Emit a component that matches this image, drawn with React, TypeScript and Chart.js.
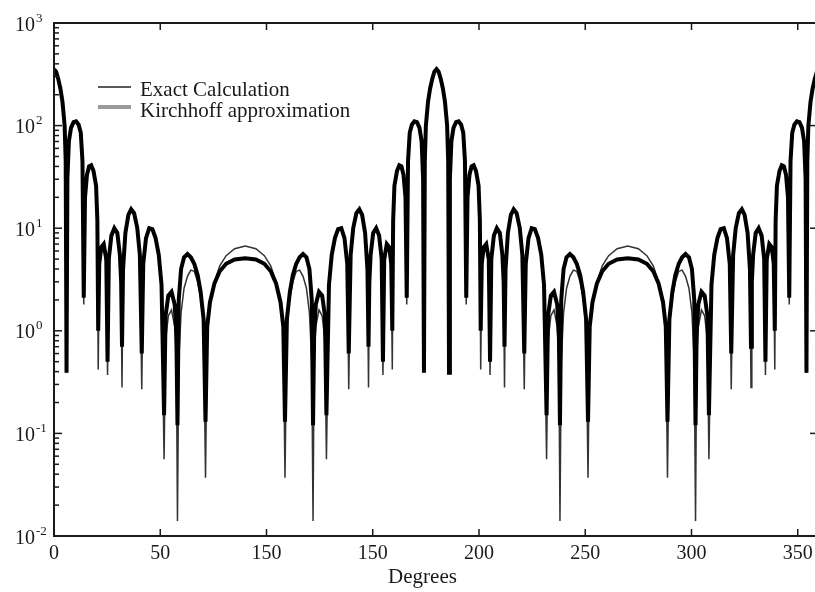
import React, { useEffect, useRef } from "react";
import { Chart, registerables } from "chart.js";

Chart.register(...registerables);

// Scattering angle (degrees), shared by both series
const degrees = [
  // 0 – 90
  0, 1, 2, 3, 4, 5, 5.5, 5.9, 6.3, 7,
  8, 9.2, 10.4, 11.6, 12.6, 13.4, 14, 14.6, 15.5, 16.5,
  17.5, 18.6, 19.8, 20.4, 20.8, 21.3, 22.2, 23.4, 24.6, 25.2,
  25.8, 27, 28.4, 29.8, 31, 31.6, 32, 32.5, 33.6, 35,
  36.3, 37.7, 39.2, 40.4, 41.3, 42, 43.3, 44.8, 46.3, 47.8,
  49.3, 50.6, 51.8, 52.5, 53.8, 55.3, 56.8, 57.6, 58.1, 58.7,
  59.8, 61.2, 62.8, 64.4, 66, 67.6, 69, 70.4, 71.3, 72.1,
  73.4, 75.5, 78, 81, 85, 90,
  // 95 – 180
  95, 99, 102, 104.5, 106.6, 107.9, 108.7, 109.6, 111, 112.4,
  114, 115.6, 117.2, 118.8, 120.2, 121.3, 121.9, 122.4, 123.2, 124.7,
  126.2, 127.5, 128.2, 129.4, 130.7, 132.2, 133.7, 135.2, 136.7, 138,
  138.7, 139.6, 140.8, 142.3, 143.7, 145, 146.4, 147.5, 148, 148.4,
  149, 150.2, 151.6, 153, 154.2, 154.8, 155.4, 156.6, 157.8, 158.7,
  159.2, 159.6, 160.2, 161.4, 162.5, 163.5, 164.5, 165.4, 166, 166.6,
  167.4, 168.4, 169.6, 170.8, 172, 173, 173.7, 174.1, 174.5, 175,
  176, 177, 178, 179, 180,
  // 181 – 270
  181, 182, 183, 184, 185, 185.5, 185.9, 186.3, 187,
  188, 189.2, 190.4, 191.6, 192.6, 193.4, 194, 194.6, 195.5, 196.5,
  197.5, 198.6, 199.8, 200.4, 200.8, 201.3, 202.2, 203.4, 204.6, 205.2,
  205.8, 207, 208.4, 209.8, 211, 211.6, 212, 212.5, 213.6, 215,
  216.3, 217.7, 219.2, 220.4, 221.3, 222, 223.3, 224.8, 226.3, 227.8,
  229.3, 230.6, 231.8, 232.5, 233.8, 235.3, 236.8, 237.6, 238.1, 238.7,
  239.8, 241.2, 242.8, 244.4, 246, 247.6, 249, 250.4, 251.3, 252.1,
  253.4, 255.5, 258, 261, 265, 270,
  // 275 – 360
  275, 279, 282, 284.5, 286.6, 287.9, 288.7, 289.6, 291, 292.4,
  294, 295.6, 297.2, 298.8, 300.2, 301.3, 301.9, 302.4, 303.2, 304.7,
  306.2, 307.5, 308.2, 309.4, 310.7, 312.2, 313.7, 315.2, 316.7, 318,
  318.7, 319.6, 320.8, 322.3, 323.7, 325, 326.4, 327.5, 328, 328.4,
  329, 330.2, 331.6, 333, 334.2, 334.8, 335.4, 336.6, 337.8, 338.7,
  339.2, 339.6, 340.2, 341.4, 342.5, 343.5, 344.5, 345.4, 346, 346.6,
  347.4, 348.4, 349.6, 350.8, 352, 353, 353.7, 354.1, 354.5, 355,
  356, 357, 358, 359, 360,
];

// Kirchhoff approximation (thick curve)
const kirchhoff = [
  355, 335, 285, 230, 170, 100, 45, 0.39, 30, 70,
  95, 108, 110, 102, 85, 45, 2.1, 20, 33, 40,
  41, 36, 26, 12, 1.0, 4.5, 6.5, 7, 5, 0.5,
  5, 8.5, 10, 9, 5.5, 3, 0.7, 4, 9, 13.5,
  15.3, 14, 10, 5.5, 0.6, 4.5, 8, 10, 9.8, 8,
  5.5, 2.8, 0.15, 1.4, 2.2, 2.4, 1.8, 0.9, 0.12, 2.0,
  4.0, 5.2, 5.6, 5.2, 4.5, 3.5, 2.4, 1.3, 0.13, 1.1,
  1.9, 2.9, 3.8, 4.5, 4.95, 5.1,

  4.95, 4.5, 3.8, 2.9, 1.9, 1.1, 0.13, 1.3, 2.4, 3.5,
  4.5, 5.2, 5.6, 5.2, 4.0, 2.0, 0.12, 0.9, 1.8, 2.4,
  2.2, 1.4, 0.15, 2.8, 5.5, 8, 9.8, 10, 8, 4.5,
  0.6, 5.5, 10, 14, 15.3, 13.5, 9, 4, 0.7, 3,
  5.5, 9, 10, 8.5, 5, 0.5, 5, 7, 6.5, 4.5,
  1.0, 12, 26, 36, 41, 40, 33, 20, 2.1, 45,
  85, 102, 110, 108, 95, 70, 30, 0.39, 45, 100,
  170, 230, 285, 335, 355,

  335, 285, 230, 170, 100, 45, 0.39, 30, 70,
  95, 108, 110, 102, 85, 45, 2.1, 20, 33, 40,
  41, 36, 26, 12, 1.0, 4.5, 6.5, 7, 5, 0.5,
  5, 8.5, 10, 9, 5.5, 3, 0.7, 4, 9, 13.5,
  15.3, 14, 10, 5.5, 0.6, 4.5, 8, 10, 9.8, 8,
  5.5, 2.8, 0.15, 1.4, 2.2, 2.4, 1.8, 0.9, 0.12, 2.0,
  4.0, 5.2, 5.6, 5.2, 4.5, 3.5, 2.4, 1.3, 0.13, 1.1,
  1.9, 2.9, 3.8, 4.5, 4.95, 5.1,

  4.95, 4.5, 3.8, 2.9, 1.9, 1.1, 0.13, 1.3, 2.4, 3.5,
  4.5, 5.2, 5.6, 5.2, 4.0, 2.0, 0.12, 0.9, 1.8, 2.4,
  2.2, 1.4, 0.15, 2.8, 5.5, 8, 9.8, 10, 8, 4.5,
  0.6, 5.5, 10, 14, 15.3, 13.5, 9, 4, 0.7, 3,
  5.5, 9, 10, 8.5, 5, 0.5, 5, 7, 6.5, 4.5,
  1.0, 12, 26, 36, 41, 40, 33, 20, 2.1, 45,
  85, 102, 110, 108, 95, 70, 30, 0.39, 45, 100,
  170, 230, 285, 335, 355,
];

// Exact calculation (thin curve)
const exact = [
  355, 335, 285, 230, 170, 100, 45, 0.39, 30, 70,
  95, 108, 110, 102, 85, 45, 1.8, 20, 33, 40,
  41, 36, 26, 12, 0.42, 3.8, 5.8, 6.2, 4.4, 0.37,
  4.5, 8, 9.5, 8.5, 5, 2.5, 0.28, 4, 9, 13.5,
  15.3, 14, 10, 5.5, 0.27, 4.5, 8, 10, 9.8, 8,
  5.2, 2.5, 0.056, 0.8, 1.4, 1.6, 1.1, 0.5, 0.014, 0.5,
  1.5, 2.6, 3.4, 3.9, 3.8, 3.0, 2.1, 1.1, 0.037, 1.0,
  1.9, 3.0, 4.3, 5.4, 6.3, 6.7,

  6.3, 5.4, 4.3, 3.0, 1.9, 1.0, 0.037, 1.1, 2.1, 3.0,
  3.8, 3.9, 3.4, 2.6, 1.5, 0.5, 0.014, 0.5, 1.1, 1.6,
  1.4, 0.8, 0.056, 2.5, 5.2, 8, 9.8, 10, 8, 4.5,
  0.27, 5.5, 10, 14, 15.3, 13.5, 9, 4, 0.28, 2.5,
  5, 8.5, 9.5, 8, 4.5, 0.37, 4.4, 6.2, 5.8, 3.8,
  0.42, 12, 26, 36, 41, 40, 33, 20, 1.8, 45,
  85, 102, 110, 108, 95, 70, 30, 0.39, 45, 100,
  170, 230, 285, 335, 355,

  335, 285, 230, 170, 100, 45, 0.39, 30, 70,
  95, 108, 110, 102, 85, 45, 1.8, 20, 33, 40,
  41, 36, 26, 12, 0.42, 3.8, 5.8, 6.2, 4.4, 0.37,
  4.5, 8, 9.5, 8.5, 5, 2.5, 0.28, 4, 9, 13.5,
  15.3, 14, 10, 5.5, 0.27, 4.5, 8, 10, 9.8, 8,
  5.2, 2.5, 0.056, 0.8, 1.4, 1.6, 1.1, 0.5, 0.014, 0.5,
  1.5, 2.6, 3.4, 3.9, 3.8, 3.0, 2.1, 1.1, 0.037, 1.0,
  1.9, 3.0, 4.3, 5.4, 6.3, 6.7,

  6.3, 5.4, 4.3, 3.0, 1.9, 1.0, 0.037, 1.1, 2.1, 3.0,
  3.8, 3.9, 3.4, 2.6, 1.5, 0.5, 0.014, 0.5, 1.1, 1.6,
  1.4, 0.8, 0.056, 2.5, 5.2, 8, 9.8, 10, 8, 4.5,
  0.27, 5.5, 10, 14, 15.3, 13.5, 9, 4, 0.28, 2.5,
  5, 8.5, 9.5, 8, 4.5, 0.37, 4.4, 6.2, 5.8, 3.8,
  0.42, 12, 26, 36, 41, 40, 33, 20, 1.8, 45,
  85, 102, 110, 108, 95, 70, 30, 0.39, 45, 100,
  170, 230, 285, 335, 355,
];

const xTickValues = [0, 50, 100, 150, 200, 250, 300, 350];
const xTickLabels = ["0", "50", "150", "150", "200", "250", "300", "350"];
const yDecades = [-2, -1, 0, 1, 2, 3];
const yExponentLabels = ["-2", "-1", "0", "1", "2", "3"];
const seriesLabels = ["Exact Calculation", "Kirchhoff approximation"];
const xTitle = "Degrees";

const FONT = '"Liberation Serif", "Times New Roman", serif';
const INK = "#1a1a1a";

const decorPlugin = {
  id: "decor",
  afterDatasetsDraw(chart: any) {
    const { ctx, chartArea: a, scales } = chart;
    const xs = scales.x;
    const ys = scales.y;
    ctx.save();
    ctx.strokeStyle = INK;
    ctx.fillStyle = INK;

    const seg = (x1: number, y1: number, x2: number, y2: number) => {
      ctx.beginPath();
      ctx.moveTo(x1, y1);
      ctx.lineTo(x2, y2);
      ctx.stroke();
    };

    // ticks (inward)
    ctx.lineWidth = 1.5;
    for (const v of xTickValues) {
      const px = xs.getPixelForValue(v);
      seg(px, a.bottom, px, a.bottom - 7);
      seg(px, a.top, px, a.top + 7);
    }
    for (const d of yDecades) {
      for (let m = 1; m <= 9; m++) {
        if (d === 3 && m > 1) break;
        const py = ys.getPixelForValue(m * Math.pow(10, d));
        const major = m === 1;
        seg(a.left, py, a.left + (major ? 8 : 5), py);
        seg(a.right, py, a.right - (major ? 9 : 3), py);
      }
    }

    // frame
    ctx.lineWidth = 2;
    ctx.strokeRect(a.left, a.top, a.right - a.left, a.bottom - a.top);

    // x tick labels
    ctx.font = `20px ${FONT}`;
    ctx.textAlign = "center";
    ctx.textBaseline = "alphabetic";
    xTickValues.forEach((v, i) => {
      ctx.fillText(xTickLabels[i], xs.getPixelForValue(v), a.bottom + 23);
    });

    // y tick labels: 10^n
    yDecades.forEach((d, i) => {
      const py = ys.getPixelForValue(Math.pow(10, d));
      ctx.font = `20px ${FONT}`;
      ctx.textAlign = "right";
      ctx.fillText("10", a.left - 19, py + 7.5);
      ctx.font = `13px ${FONT}`;
      ctx.textAlign = "left";
      ctx.fillText(yExponentLabels[i], a.left - 18, py - 1.5);
    });

    // axis title
    ctx.font = `21px ${FONT}`;
    ctx.textAlign = "center";
    ctx.fillText(xTitle, xs.getPixelForValue(173.4), a.bottom + 47);

    // legend
    const lx = a.left + 44;
    const ly = a.top + 64;
    ctx.lineWidth = 1.5;
    ctx.strokeStyle = "#222";
    seg(lx, ly, lx + 33, ly);
    ctx.lineWidth = 4;
    ctx.strokeStyle = "#9a9a9a";
    seg(lx, ly + 20, lx + 33, ly + 20);
    ctx.font = `21px ${FONT}`;
    ctx.textAlign = "left";
    ctx.fillStyle = INK;
    ctx.fillText(seriesLabels[0], lx + 42, ly + 9);
    ctx.fillText(seriesLabels[1], lx + 42, ly + 29.5);

    ctx.restore();
  },
};

export default function App() {
  const ref = useRef<HTMLCanvasElement | null>(null);

  useEffect(() => {
    if (!ref.current) return;
    const chart = new Chart(ref.current, {
      type: "line",
      data: {
        datasets: [
          {
            label: seriesLabels[1],
            data: degrees.map((d, i) => ({ x: d, y: kirchhoff[i] })),
            borderColor: "#000000",
            borderWidth: 4,
            pointRadius: 0,
            tension: 0,
            order: 0,
          },
          {
            label: seriesLabels[0],
            data: degrees.map((d, i) => ({ x: d, y: exact[i] })),
            borderColor: "#333333",
            borderWidth: 1.5,
            pointRadius: 0,
            tension: 0,
            order: 1,
          },
        ],
      },
      options: {
        animation: false,
        responsive: false,
        devicePixelRatio: 1,
        events: [],
        layout: { padding: { left: 54, top: 23, right: 3, bottom: 56 } },
        scales: {
          x: { type: "linear", min: 0, max: 360, display: false },
          y: { type: "logarithmic", min: 0.01, max: 1000, display: false },
        },
        plugins: {
          legend: { display: false },
          tooltip: { enabled: false },
        },
      },
      plugins: [decorPlugin],
    } as any);
    return () => chart.destroy();
  }, []);

  return (
    <div
      style={{
        position: "fixed",
        left: 0,
        top: 0,
        width: 815,
        height: 592,
        overflow: "hidden",
        background: "#ffffff",
      }}
    >
      <canvas
        ref={ref}
        width={822}
        height={592}
        style={{ display: "block", width: 822, height: 592 }}
      />
    </div>
  );
}
